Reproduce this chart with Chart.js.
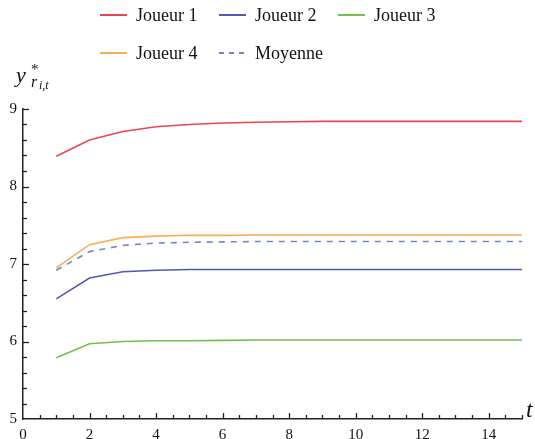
<!DOCTYPE html>
<html>
<head>
<meta charset="utf-8">
<script src="https://cdn.jsdelivr.net/npm/chart.js@4/dist/chart.umd.min.js"></script>
<style>
body { margin: 0; background: #fff; font-family: "Liberation Serif", serif; }
#wrap { position: relative; width: 535px; height: 439px; overflow: hidden; }
#chart { position: absolute; left: 0; top: 0; }
#legend { position: absolute; left: 100px; top: 4px; display: grid; grid-template-columns: 119px 119px 119px; row-gap: 16px; }
.item { display: flex; align-items: center; height: 22px; font-size: 18px; color: #111; white-space: nowrap; }
.item svg { margin-right: 9px; }
.lbl { position: absolute; font-style: italic; line-height: 1; color: #111; }
</style>
</head>
<body>
<div id="wrap">
  <canvas id="chart" width="535" height="439"></canvas>
  <div id="legend"></div>
  <span class="lbl" style="left:16px;top:64px;font-size:22px">y</span>
  <span class="lbl" style="left:31px;top:62px;font-size:15px;font-style:normal">*</span>
  <span class="lbl" style="left:31px;top:74px;font-size:16px">r</span>
  <span class="lbl" style="left:39px;top:79px;font-size:12px">i,t</span>
  <span class="lbl" style="left:526px;top:397px;font-size:24px">t</span>
</div>
<script>
const t = [1, 2, 3, 4, 5, 6, 7, 8, 9, 10, 11, 12, 13, 14, 15];
const joueur1 = [8.39, 8.60, 8.71, 8.77, 8.80, 8.82, 8.83, 8.835, 8.84, 8.84, 8.84, 8.84, 8.84, 8.84, 8.84];
const joueur2 = [6.55, 6.82, 6.90, 6.92, 6.93, 6.93, 6.93, 6.93, 6.93, 6.93, 6.93, 6.93, 6.93, 6.93, 6.93];
const joueur3 = [5.79, 5.97, 6.00, 6.01, 6.01, 6.015, 6.02, 6.02, 6.02, 6.02, 6.02, 6.02, 6.02, 6.02, 6.02];
const joueur4 = [6.95, 7.25, 7.34, 7.36, 7.37, 7.37, 7.375, 7.375, 7.375, 7.375, 7.375, 7.375, 7.375, 7.375, 7.375];
const moyenne = [6.92, 7.16, 7.24, 7.27, 7.28, 7.285, 7.29, 7.29, 7.29, 7.29, 7.29, 7.29, 7.29, 7.29, 7.29];

const names = ['Joueur 1', 'Joueur 2', 'Joueur 3', 'Joueur 4', 'Moyenne'];
const colors = ['#e8464f', '#5259b4', '#72c04a', '#f9ac5a', '#7186c4'];
const series = [joueur1, joueur2, joueur3, joueur4, moyenne];

const serif = { family: '"Liberation Serif", serif', size: 15 };

// ticks drawn inside the axes, like Mathematica
const innerTicks = {
	id: 'innerTicks',
	afterDraw(chart) {
		const ctx = chart.ctx;
		const x = chart.scales.x, y = chart.scales.y;
		ctx.save();
		ctx.strokeStyle = '#222';
		ctx.lineWidth = 1.3;
		x.ticks.forEach(tk => {
			if (tk.value === 0) return;
			const px = Math.round(x.getPixelForValue(tk.value)) + 0.5;
			const len = tk.value % 2 === 0 ? 6 : 4;
			ctx.beginPath();
			ctx.moveTo(px, x.top);
			ctx.lineTo(px, x.top - len);
			ctx.stroke();
		});
		y.ticks.forEach(tk => {
			if (Math.abs(tk.value - 5) < 1e-6) return;
			const py = Math.round(y.getPixelForValue(tk.value)) + 0.5;
			const len = Math.abs(tk.value - Math.round(tk.value)) < 1e-6 ? 6 : 4;
			ctx.beginPath();
			ctx.moveTo(y.right, py);
			ctx.lineTo(y.right + len, py);
			ctx.stroke();
		});
		ctx.restore();
	}
};

const chart = new Chart(document.getElementById('chart'), {
	type: 'line',
	data: {
		datasets: names.map((n, i) => ({
			label: n,
			data: t.map((v, j) => ({ x: v, y: series[i][j] })),
			borderColor: colors[i],
			backgroundColor: colors[i],
			borderWidth: 1.6,
			borderDash: n === 'Moyenne' ? [6, 6] : [],
			pointRadius: 0,
			tension: 0
		}))
	},
	options: {
		responsive: false,
		animation: false,
		layout: { padding: { left: 0, top: 109, right: 13, bottom: 0 } },
		plugins: { legend: { display: false }, tooltip: { enabled: false } },
		scales: {
			x: {
				type: 'linear',
				min: 0,
				max: 15,
				afterFit: s => { s.height = 20; },
				grid: { display: false, drawTicks: false },
				border: { display: true, color: '#222', width: 1.5 },
				ticks: {
					stepSize: 0.5,
					autoSkip: false,
					maxRotation: 0,
					padding: 7,
					color: '#111',
					font: serif,
					callback: v => (v % 2 === 0 ? v : '')
				}
			},
			y: {
				min: 5,
				max: 9,
				afterFit: s => { s.width = 23; },
				grid: { display: false, drawTicks: false },
				border: { display: true, color: '#222', width: 1.5 },
				ticks: {
					stepSize: 0.2,
					autoSkip: false,
					padding: 6,
					color: '#111',
					font: serif,
					callback: v => (Math.abs(v - Math.round(v)) < 1e-6 ? Math.round(v) : '')
				}
			}
		}
	},
	plugins: [innerTicks]
});

// html legend built from the datasets
const legend = document.getElementById('legend');
chart.data.datasets.forEach(ds => {
	const item = document.createElement('div');
	item.className = 'item';
	const dash = ds.borderDash.length ? 'stroke-dasharray="5 5"' : '';
	item.innerHTML = '<svg width="27" height="4"><line x1="0" y1="2" x2="27" y2="2" stroke="' +
		ds.borderColor + '" stroke-width="2" ' + dash + '/></svg><span>' + ds.label + '</span>';
	legend.appendChild(item);
});
</script>
</body>
</html>
